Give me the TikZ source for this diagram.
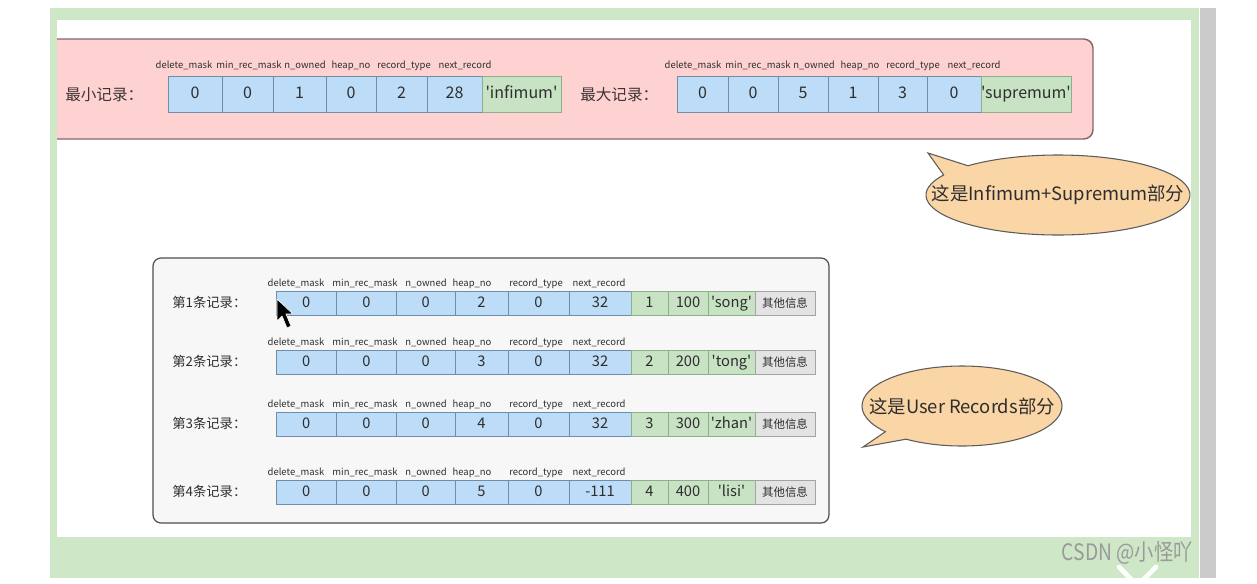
\documentclass[tikz,border=0pt]{standalone}
\usepackage{fontspec}
\setmainfont{Noto Sans CJK SC}[Ligatures=TeXOff]
\definecolor{framegreen}{HTML}{CDE7C7}
\definecolor{scrollgray}{HTML}{CBCBCB}
\definecolor{pinkfill}{HTML}{FFD2D2}
\definecolor{pinkline}{HTML}{85666C}
\definecolor{cellblue}{HTML}{BDDCF7}
\definecolor{blueline}{HTML}{6F8DA8}
\definecolor{cellgreen}{HTML}{C8E3C4}
\definecolor{greenline}{HTML}{8FAE8B}
\definecolor{cellgray}{HTML}{E3E3E3}
\definecolor{grayline}{HTML}{A3A3A3}
\definecolor{boxfill}{HTML}{F7F7F7}
\definecolor{boxline}{HTML}{4F4F4F}
\definecolor{bubblefill}{HTML}{FAD5A6}
\definecolor{bubbleline}{HTML}{5C5C5C}
\definecolor{txt}{HTML}{2E2E2E}
\definecolor{labtxt}{HTML}{3F3434}
\definecolor{wmgray}{HTML}{9A9A9A}
\tikzset{
  cell/.style={draw, anchor=north west, inner sep=0pt, outer sep=0pt, text=txt,
    text height=0.72em, text depth=0pt, line width=0.6pt},
  hdr/.style={anchor=base, inner sep=0pt, font=\fontsize{7.1}{9}\selectfont, text=txt},
  rowlab/.style={anchor=west, inner sep=0pt, font=\fontsize{10}{12}\selectfont, text=txt},
  toplab/.style={anchor=west, inner sep=0pt, font=\fontsize{11.7}{14}\selectfont, text=labtxt},
  bubble/.style={fill=bubblefill, draw=bubbleline, line width=0.8pt},
  bubtext/.style={inner sep=0pt, font=\fontsize{13.8}{17}\selectfont, text=txt},
}
\begin{document}
\begin{tikzpicture}[x=0.75pt,y=-0.75pt]
\useasboundingbox (0,0) rectangle (1257,583);
\fill[white] (0,0) rectangle (1257,583);
% frame
\fill[framegreen] (50,8) rectangle (1199,578);
\fill[white] (57,20) rectangle (1191,537);
\fill[scrollgray] (1200,8) rectangle (1216,578);
% pink box
\filldraw[fill=pinkfill, draw=pinkline, line width=1.1pt, rounded corners=7pt]
  (57,39) -- (1093,39) -- (1093,139) -- (57,139);
% top labels
\node[toplab] (minlab) at (65,95) {最小记录：};
\node[toplab] (maxlab) at (580,95) {最大记录：};
% top left row
\foreach \xa/\xb/\val/\fc/\dc/\cj in {168/222/0/cellblue/blueline/1, 222/273/0/cellblue/blueline/2,
  273/326/1/cellblue/blueline/3, 326/376/0/cellblue/blueline/4, 376/427/2/cellblue/blueline/5,
  427/482/28/cellblue/blueline/6, 482/561/'infimum'/cellgreen/greenline/7} {
  \pgfmathsetmacro\cw{(\xb-\xa)*0.75}
  \node[cell, fill=\fc, draw=\dc, minimum width=\cw pt, minimum height=27pt,
    font=\fontsize{12}{14}\selectfont] (min\cj) at (\xa,76) {\val};
}
\foreach \xa/\xb/\val/\fc/\dc/\cj in {677/728/0/cellblue/blueline/1, 728/778/0/cellblue/blueline/2,
  778/828/5/cellblue/blueline/3, 828/878/1/cellblue/blueline/4, 878/927/3/cellblue/blueline/5,
  927/981/0/cellblue/blueline/6, 981/1063/'supremum'/cellgreen/greenline/7} {
  \pgfmathsetmacro\cw{(\xb-\xa)*0.75}
  \node[cell, fill=\fc, draw=\dc, minimum width=\cw pt, minimum height=27pt,
    font=\fontsize{12}{14}\selectfont] (max\cj) at (\xa,76) {\val};
}
\foreach \hx/\hname/\cj in {184/delete\_mask/1, 249/min\_rec\_mask/2, 305/n\_owned/3,
  351/heap\_no/4, 404/record\_type/5, 465/next\_record/6} {
  \node[hdr] (minh\cj) at (\hx,68) {\hname};
  \node[hdr] (maxh\cj) at (\hx+509,68) {\hname};
}
% bubble 1
\filldraw[bubble] (1058,195) ++(227:132 and 40)
  arc[start angle=227, end angle=570, x radius=132, y radius=40] -- (928,153) -- cycle;
\node[bubtext] (bub1) at (1058,195) {这是Infimum+Supremum部分};
% lower box
\filldraw[fill=boxfill, draw=boxline, line width=0.9pt, rounded corners=6pt]
  (153,258) rectangle (829,523);
\foreach \rk/\rty/\rhp/\rnx/\rga/\rgb/\rgc in {1/291/2/32/1/100/'song', 2/350/3/32/2/200/'tong',
  3/412/4/32/3/300/'zhan', 4/480/5/-111/4/400/'lisi'} {
  \node[rowlab] (lab\rk) at (172,\rty+11) {第\rk 条记录：};
  \foreach \xa/\xb/\val/\fc/\dc/\cj in {276/336.5/0/cellblue/blueline/1, 336.5/396.5/0/cellblue/blueline/2,
    396.5/455/0/cellblue/blueline/3, 455/508/\rhp/cellblue/blueline/4, 508/569/0/cellblue/blueline/5,
    569/631/\rnx/cellblue/blueline/6, 631/668/\rga/cellgreen/greenline/7, 668/708/\rgb/cellgreen/greenline/8,
    708/755/\rgc/cellgreen/greenline/9} {
    \pgfmathsetmacro\cw{(\xb-\xa)*0.75}
    \node[cell, fill=\fc, draw=\dc, minimum width=\cw pt, minimum height=18pt,
      font=\fontsize{11}{13}\selectfont] (r\rk c\cj) at (\xa,\rty) {\val};
  }
  \node[cell, fill=cellgray, draw=grayline, minimum width=45pt, minimum height=18pt,
    font=\fontsize{8.6}{10}\selectfont] (r\rk c10) at (755,\rty) {其他信息};
  \foreach \hx/\hname/\cj in {296/delete\_mask/1, 365/min\_rec\_mask/2, 426/n\_owned/3,
    472/heap\_no/4, 536/record\_type/5, 599/next\_record/6} {
    \node[hdr] (r\rk h\cj) at (\hx,\rty-4.5) {\hname};
  }
}
% cursor
\filldraw[fill=black, draw=white, line width=0.5pt, line join=round]
  (277,299) -- (277,321) -- (282,316) -- (287,328) -- (291,326) -- (286,314) -- (293,314) -- cycle;
% bubble 2
\filldraw[bubble] (962,406) ++(140:100 and 40)
  arc[start angle=140, end angle=484, x radius=100, y radius=40] -- (863,447) -- cycle;
\node[bubtext] (bub2) at (962,406) {这是User Records部分};
% watermark
\node[anchor=east, inner sep=0pt, text=wmgray, font=\fontsize{17}{20}\selectfont] (wm) at (1193,553)
  {\scalebox{0.85}[1]{CSDN @小怪吖}};
\draw[white, line width=3.6pt, line cap=round] (1119,567) -- (1132,580);
\draw[white, line width=3.6pt, line cap=round] (1156,567) -- (1143,580);
\end{tikzpicture}
\end{document}
